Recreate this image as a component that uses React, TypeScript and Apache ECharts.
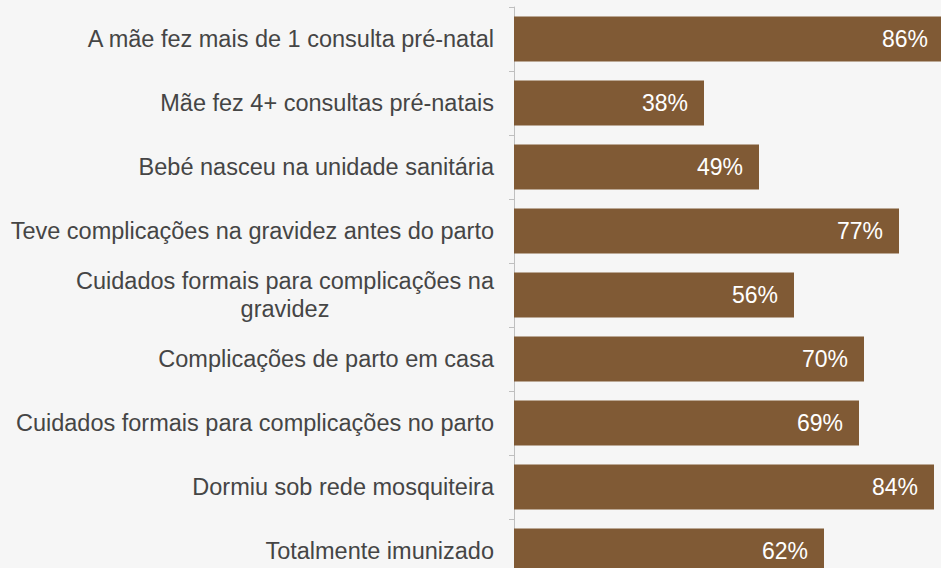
import React, { useEffect, useRef } from "react";
import * as echarts from "echarts";

const categories = [
  "A mãe fez mais de 1 consulta pré-natal",
  "Mãe fez 4+ consultas pré-natais",
  "Bebé nasceu na unidade sanitária",
  "Teve complicações na gravidez antes do parto",
  "Cuidados formais para complicações na\ngravidez",
  "Complicações de parto em casa",
  "Cuidados formais para complicações no parto",
  "Dormiu sob rede mosquiteira",
  "Totalmente imunizado",
];
const values = [86, 38, 49, 77, 56, 70, 69, 84, 62];

const FONT = "Liberation Sans, Arial, Helvetica, sans-serif";

export default function App() {
  const ref = useRef<HTMLDivElement>(null);
  useEffect(() => {
    document.body.style.margin = "0";
    const chart = echarts.init(ref.current!, null, { renderer: "svg" });
    chart.setOption({
      animation: false,
      backgroundColor: "#f6f6f6",
      textStyle: { fontFamily: FONT },
      grid: { left: 514, width: 500, top: 7, height: 576, containLabel: false },
      xAxis: { type: "value", min: 0, max: 100, show: false },
      yAxis: {
        type: "category",
        inverse: true,
        data: categories,
        axisLine: { show: true, lineStyle: { color: "#bfbfbf", width: 1 } },
        axisTick: { show: true, length: 5, lineStyle: { color: "#bfbfbf" } },
        axisLabel: {
          margin: 20,
          fontSize: 23.5,
          color: "#454545",
          fontFamily: FONT,
          formatter: (v: string) =>
            v.indexOf("\n") >= 0
              ? v
                  .split("\n")
                  .map((l) => "{c|" + l + "}")
                  .join("\n")
              : v,
          rich: {
            c: {
              align: "center",
              fontSize: 23.5,
              color: "#454545",
              lineHeight: 28,
              fontFamily: FONT,
            },
          },
        },
      },
      series: [
        {
          type: "bar",
          data: values,
          barWidth: "70%",
          itemStyle: { color: "#805a35" },
          label: {
            show: true,
            position: "insideRight",
            distance: 16,
            formatter: "{c}%",
            color: "#ffffff",
            fontSize: 23,
            fontFamily: FONT,
          },
        },
      ],
    });
    return () => chart.dispose();
  }, []);
  return (
    <div
      style={{
        position: "fixed",
        left: 0,
        top: 0,
        width: 941,
        height: 568,
        overflow: "hidden",
        background: "#f6f6f6",
      }}
    >
      <div ref={ref} style={{ width: 1100, height: 620 }} />
    </div>
  );
}
